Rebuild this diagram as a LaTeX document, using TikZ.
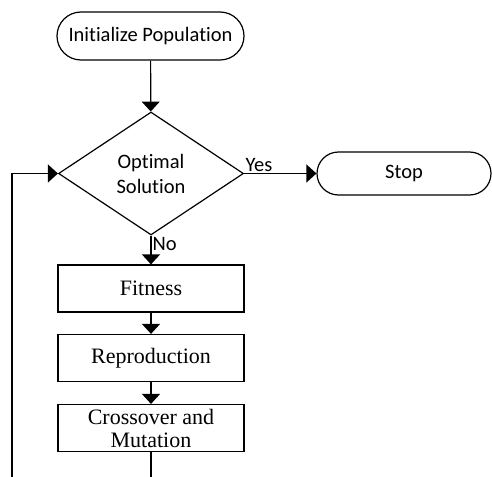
\documentclass[tikz,border=0pt]{standalone}
\usepackage{fontspec}
\newfontfamily\calib[Ligatures=NoCommon]{Carlito}
\newfontfamily\serifb{Liberation Serif}
\usetikzlibrary{shapes.geometric,shapes.misc,arrows.meta}
\begin{document}
\begin{tikzpicture}[x=1pt,y=-1pt,line width=1.2pt,
  arr/.style={-{Triangle[width=18pt,length=10pt]}},
  term/.style={draw,rounded rectangle,minimum height=48pt,inner sep=0pt,font=\calib\fontsize{20.5}{24}\selectfont},
  decbox/.style={draw,diamond,aspect=1.5,minimum width=185pt,minimum height=123pt,inner sep=0pt,align=center,font=\calib\fontsize{20.5}{25}\selectfont},
  procbox/.style={draw,rectangle,minimum width=186pt,minimum height=47pt,inner sep=0pt,align=center,font=\serifb\fontsize{22}{23}\selectfont},
  lbl/.style={font=\calib\fontsize{20.5}{24}\selectfont,inner sep=1pt}]
\useasboundingbox (0,0) rectangle (492,476);
\node[term,minimum width=187pt] (init) at (150.5,36) {Initialize Population};
\node[decbox] (dec) at (151,173.5) {Optimal\\Solution};
\node[term,minimum width=174pt,minimum height=43pt] (stop) at (404,173.5) {Stop};
\node[procbox] (fit) at (151,288.5) {Fitness};
\node[procbox] (rep) at (151,358) {Reproduction};
\node[procbox] (cro) at (151,428) {Crossover and\\Mutation};
\coordinate (b1) at (151,478);
\coordinate (b2) at (12,478);
\draw[arr] (init) -- (dec);
\draw[arr] (dec.east) -- (stop.west);
\node[lbl,anchor=south west] (yes) at (dec.east) {Yes};
\draw[arr] (dec.south) -- (fit.north);
\node[lbl,anchor=north west] (no) at (dec.south) {No};
\draw[arr] (fit) -- (rep);
\draw[arr] (rep) -- (cro);
\draw (cro) -- (b1);
\draw[arr] (b2) |- (dec.west);
\end{tikzpicture}
\end{document}
